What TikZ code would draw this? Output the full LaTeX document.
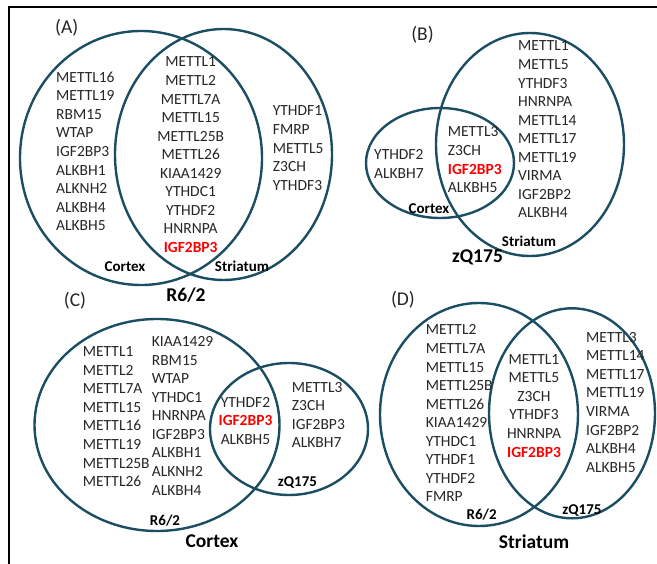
\documentclass[tikz,border=0pt]{standalone}
\usepackage{fontspec}
\setmainfont{Carlito}
\definecolor{venn}{HTML}{1C4E63}
\definecolor{gtxt}{HTML}{262626}
\begin{document}
\begin{tikzpicture}[x=1pt,y=-1pt,
  vset/.style={draw=venn, line width=2.4pt},
  gene/.style={font=\fontsize{15.5}{18}\selectfont, text=gtxt, inner sep=0pt},
  hit/.style={font=\fontsize{15.5}{18}\selectfont\bfseries, text=red, inner sep=0pt},
  setlbl/.style={font=\fontsize{15}{18}\selectfont\bfseries, text=black, inner sep=0pt},
  grp/.style={font=\fontsize{19.5}{22}\selectfont\bfseries, text=black, inner sep=0pt},
  panel/.style={font=\fontsize{19.5}{22}\selectfont, text=gtxt, inner sep=0pt},
  frame/.style={draw=black, line width=1.6pt}]
\useasboundingbox (0,0) rectangle (657,564);
\def\st{18.55}
% frame
\coordinate (f1) at (657,7);
\coordinate (f2) at (9,7);
\coordinate (f3) at (9,564);
\draw[frame] (f1) -- (f2) -- (f3);

% ---------------- Panel A ----------------
\node[panel] (lA) at (66.7,28) {(A)};
\draw[vset] (141,158) ellipse [x radius=121pt, y radius=127pt];
\draw[vset] (223.5,154.5) ellipse [x radius=108.5pt, y radius=125.5pt];
\foreach \g [count=\i] in {METTL16,METTL19,RBM15,WTAP,IGF2BP3,ALKBH1,ALKNH2,ALKBH4,ALKBH5}
  \node[gene, anchor=base west] (Al\i) at (56,{82.3+(\i-1)*\st}) {\g};
\foreach \g [count=\i] in {METTL1,METTL2,METTL7A,METTL15,METTL25B,METTL26,KIAA1429,YTHDC1,YTHDF2,HNRNPA}
  \node[gene, anchor=base] (Am\i) at (190.7,{67+(\i-1)*\st}) {\g};
\node[hit, anchor=base] (Am11) at (190.7,{67+10*\st}) {IGF2BP3};
\foreach \g [count=\i] in {YTHDF1,FMRP,METTL5,Z3CH,YTHDF3}
  \node[gene, anchor=base west] (Ar\i) at (272.7,{116+(\i-1)*\st}) {\g};
\node[setlbl] (Acx) at (125,267) {Cortex};
\node[setlbl] (Ast) at (242,266) {Striatum};
\node[grp] (Ag) at (186,295) {R6/2};

% ---------------- Panel B ----------------
\node[panel] (lB) at (422.5,35) {(B)};
\draw[vset] (440,163) ellipse [x radius=74pt, y radius=55pt];
\draw[vset] (530,144.5) ellipse [x radius=94pt, y radius=111.5pt];
\foreach \g [count=\i] in {METTL1,METTL5,YTHDF3,HNRNPA,METTL14,METTL17,METTL19,VIRMA,IGF2BP2,ALKBH4}
  \node[gene, anchor=base west] (Br\i) at (518,{51+(\i-1)*\st}) {\g};
\node[gene, anchor=base west] (Bm1) at (447.7,137) {METTL3};
\node[gene, anchor=base west] (Bm2) at (447.7,{137+\st}) {Z3CH};
\node[hit, anchor=base west] (Bm3) at (447.7,{137+2*\st}) {IGF2BP3};
\node[gene, anchor=base west] (Bm4) at (447.7,{137+3*\st}) {ALKBH5};
\node[gene, anchor=base west] (Bl1) at (374,160) {YTHDF2};
\node[gene, anchor=base west] (Bl2) at (374,{160+\st}) {ALKBH7};
\node[setlbl] (Bcx) at (429,209) {Cortex};
\node[setlbl] (Bst) at (529,241) {Striatum};
\node[grp] (Bg) at (477.5,257.5) {zQ175};

% ---------------- Panel C ----------------
\node[panel] (lC) at (75,301) {(C)};
\draw[vset] (157,425) ellipse [x radius=122.5pt, y radius=106pt];
\draw[vset] (289,429) ellipse [x radius=79pt, y radius=66pt];
\foreach \g [count=\i] in {METTL1,METTL2,METTL7A,METTL15,METTL16,METTL19,METTL25B,METTL26}
  \node[gene, anchor=base west] (Ca\i) at (82.7,{356.7+(\i-1)*\st}) {\g};
\foreach \g [count=\i] in {KIAA1429,RBM15,WTAP,YTHDC1,HNRNPA,IGF2BP3,ALKBH1,ALKNH2,ALKBH4}
  \node[gene, anchor=base west] (Cb\i) at (151.7,{346.7+(\i-1)*\st}) {\g};
\node[gene, anchor=base] (Cm1) at (245.5,407.3) {YTHDF2};
\node[hit, anchor=base] (Cm2) at (245.5,{407.3+\st}) {IGF2BP3};
\node[gene, anchor=base] (Cm3) at (245.5,{407.3+2*\st}) {ALKBH5};
\foreach \g [count=\i] in {METTL3,Z3CH,IGF2BP3,ALKBH7}
  \node[gene, anchor=base west] (Cr\i) at (291.7,{392.3+(\i-1)*\st}) {\g};
\node[setlbl] (Czq) at (297.5,482.5) {zQ175};
\node[setlbl] (Crb) at (165,521) {R6/2};
\node[grp] (Cg) at (212,540.7) {Cortex};

% ---------------- Panel D ----------------
\node[panel] (lD) at (403,300) {(D)};
\draw[vset] (479,414.5) ellipse [x radius=99pt, y radius=111.5pt];
\draw[vset] (572,413.3) ellipse [x radius=83pt, y radius=105pt];
\foreach \g [count=\i] in {METTL2,METTL7A,METTL15,METTL25B,METTL26,KIAA1429,YTHDC1,YTHDF1,YTHDF2,FMRP}
  \node[gene, anchor=base west] (Dl\i) at (425.7,{335+(\i-1)*\st}) {\g};
\foreach \g [count=\i] in {METTL1,METTL5,Z3CH,YTHDF3,HNRNPA}
  \node[gene, anchor=base] (Dm\i) at (534,{364.3+(\i-1)*\st}) {\g};
\node[hit, anchor=base] (Dm6) at (534,{364.3+5*\st}) {IGF2BP3};
\foreach \g [count=\i] in {METTL3,METTL14,METTL17,METTL19,VIRMA,IGF2BP2,ALKBH4,ALKBH5}
  \node[gene, anchor=base west] (Dr\i) at (586,{342.3+(\i-1)*\st}) {\g};
\node[setlbl] (Drb) at (481.7,515) {R6/2};
\node[setlbl] (Dzq) at (582,511) {zQ175};
\node[grp] (Dg) at (534,541.7) {Striatum};
\end{tikzpicture}
\end{document}
